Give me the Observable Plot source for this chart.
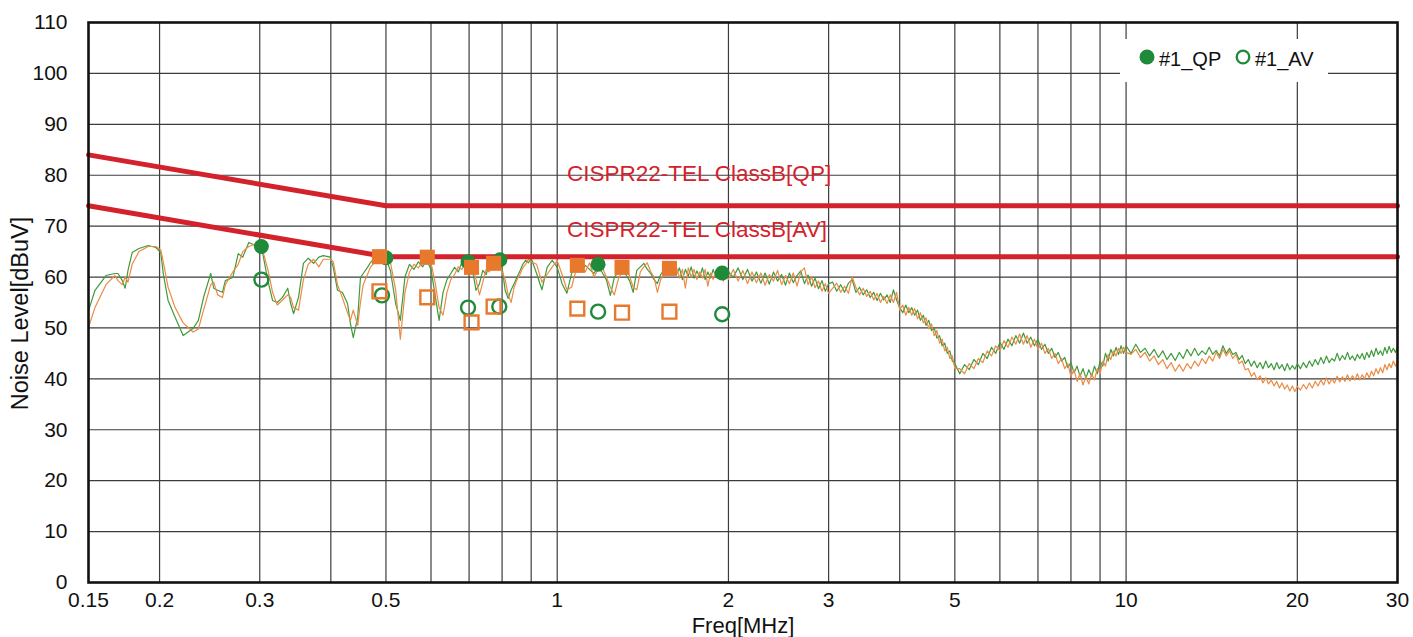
<!DOCTYPE html>
<html><head><meta charset="utf-8">
<script src="https://cdn.jsdelivr.net/npm/d3@7"></script>
<script src="https://cdn.jsdelivr.net/npm/@observablehq/plot@0.6"></script>
<style>
html,body{margin:0;padding:0;background:#fff;}
#wrap{position:relative;width:1413px;height:637px;overflow:hidden;}
#legend{position:absolute;left:1120px;top:39px;}
</style></head><body><div id="wrap"></div>
<script>
// ---------- sweep traces (frequency in MHz, level in dBuV) ----------
const freqA = [0.150,0.154,0.161,0.167,0.169,0.172,0.174,0.176,0.179,0.184,
 0.191,0.197,0.201,0.203,0.207,0.213,0.220,0.229,0.234,0.239,
 0.246,0.249,0.253,0.258,0.261,0.269,0.275,0.280,0.287,0.295,
 0.303,0.310,0.316,0.322,0.329,0.336,0.340,0.344,0.351,0.358,
 0.365,0.373,0.381,0.388,0.399,0.404,0.411,0.419,0.428,0.433,
 0.438,0.446,0.451,0.456,0.464,0.470,0.479,0.499,0.509,0.520];
const greenA = [53.4,57.4,60.3,60.7,60.7,59.3,57.8,61.3,64.8,65.6,
 66.2,65.8,64.8,60.7,55.4,52.1,48.5,49.9,51.5,56.0,
 60.7,57.8,57.4,57.0,59.3,59.9,64.6,63.9,66.8,66.2,
 65.2,59.3,55.4,55.0,56.0,57.8,54.8,52.8,56.0,62.7,
 63.7,62.7,63.9,64.2,63.9,61.9,57.4,57.0,54.8,50.9,
 48.1,52.1,59.9,60.7,61.9,62.9,63.9,63.9,61.3,54.8];
const orangeA = [50.1,54.0,58.5,60.3,59.3,58.5,60.0,59.0,62.5,65.0,
 66.0,66.0,65.3,63.0,58.0,54.0,51.0,49.2,49.8,53.5,
 58.5,59.0,56.5,56.0,58.5,61.0,62.5,65.0,66.0,66.5,
 65.5,61.5,57.0,54.5,55.5,56.5,56.0,54.0,53.5,59.5,
 62.5,63.5,62.0,63.5,63.5,63.0,58.5,56.0,53.0,51.5,
 53.5,50.5,55.0,58.5,60.5,62.0,63.0,63.5,63.0,57.5];

const freqB = [0.53,0.54,0.55,0.56,0.57,0.58,0.59,0.60,0.61,0.62,
 0.63,0.64,0.65,0.66,0.67,0.68,0.69,0.70,0.71,0.72,
 0.73,0.74,0.75,0.76,0.77,0.78,0.79,0.80,0.81,0.82,
 0.83,0.84,0.85,0.86,0.87,0.88,0.89,0.90,0.92,0.94,
 0.96,0.98,1.00];
const greenB = [51.5,60.0,62.5,61.5,63.0,62.0,63.3,61.5,56.5,51.5,
 57.0,59.5,60.7,61.9,61.0,62.9,62.0,63.0,61.3,57.4,
 58.7,61.3,60.5,62.5,62.3,63.5,62.0,61.9,57.4,55.8,
 57.5,58.7,60.0,61.2,62.5,63.3,62.8,63.7,60.7,57.5,
 61.9,63.3,61.9];
const orangeB = [47.8,57.0,61.0,62.5,61.8,63.0,62.5,62.8,59.0,54.0,
 52.5,57.0,59.5,60.5,62.0,61.5,63.0,62.2,62.5,59.5,
 56.5,59.0,61.5,61.0,63.0,62.5,63.3,61.0,59.5,56.5,
 55.0,58.0,59.5,60.5,61.8,62.5,63.5,63.0,62.5,59.0,
 60.5,62.0,63.2];

const freqC = [1.02,1.04,1.06,1.08,1.10,1.12,1.14,1.16,1.18,1.20,
 1.22,1.24,1.26,1.28,1.30,1.32,1.34,1.36,1.38,1.40,
 1.42,1.44,1.46,1.48,1.50,1.52,1.54,1.56,1.58,1.60,
 1.62,1.64,1.66,1.68,1.70,1.72,1.74,1.76,1.78,1.80,
 1.82,1.84,1.86,1.88,1.90,1.92,1.94,1.96,1.98,2.00];
const greenC = [58.7,56.8,60.7,62.7,61.0,62.3,61.5,60.7,62.0,60.9,
 59.5,56.4,59.9,61.0,61.9,60.5,59.3,57.0,61.3,62.0,
 62.7,61.5,60.7,59.5,58.7,60.5,61.3,62.0,61.0,62.3,
 60.5,61.8,59.5,61.5,60.2,62.0,59.8,61.2,60.0,61.8,
 59.5,61.0,59.8,61.5,60.0,61.2,59.5,60.8,59.8,61.0];
const orangeC = [60.5,57.5,58.0,61.5,62.5,61.0,62.8,60.0,61.5,62.0,
 60.0,58.0,56.5,59.5,61.2,62.0,60.2,58.0,57.5,61.0,
 62.0,62.8,61.0,60.0,57.0,59.5,60.5,61.5,62.3,61.2,
 62.0,59.8,61.5,57.8,61.8,60.0,61.5,59.5,61.0,59.8,
 61.5,58.2,60.8,59.5,61.2,59.8,60.5,59.2,61.0,59.5];

const freqD = [2.04,2.08,2.12,2.16,2.20,2.24,2.28,2.32,2.36,2.40,
 2.44,2.48,2.52,2.56,2.60,2.64,2.68,2.72,2.76,2.80,
 2.84,2.88,2.92,2.96,3.00];
const greenD = [60.0,61.8,59.5,61.5,59.2,61.0,58.8,60.8,58.6,61.0,
 59.2,60.5,58.4,60.8,58.9,60.3,61.2,58.7,60.4,58.2,
 59.8,57.7,59.3,57.2,58.7];
const orangeD = [61.5,59.2,61.3,58.7,61.0,58.9,60.8,58.4,60.5,59.2,
 61.3,58.5,60.3,58.7,60.8,58.2,61.0,61.8,58.5,60.0,
 57.9,59.2,57.2,58.7,56.8];

const freqE = [3.05,3.10,3.15,3.20,3.25,3.30,3.35,3.40,3.45,3.50,
 3.55,3.60,3.65,3.70,3.75,3.80,3.85,3.90,3.95,4.00,
 4.05,4.10,4.15,4.20,4.25,4.30,4.35,4.40,4.45,4.50,
 4.55,4.60,4.65,4.70,4.75,4.80,4.85,4.90,4.95,5.00];
const greenE = [59.0,57.2,58.5,57.0,58.8,59.5,57.0,58.0,56.5,57.5,
 56.0,57.0,55.4,56.8,55.5,56.5,55.0,57.5,55.5,54.0,
 53.0,54.5,53.0,54.0,52.5,53.5,51.5,52.5,50.5,51.5,
 49.5,50.0,48.0,48.5,46.5,47.0,45.0,45.5,43.5,43.0];
const orangeE = [57.8,58.8,57.0,58.2,56.8,60.0,58.0,56.5,57.8,56.2,
 57.2,55.5,56.8,55.0,56.2,54.8,56.5,55.0,57.0,53.5,
 54.5,52.5,54.0,52.5,53.8,51.8,53.0,51.0,52.0,49.8,
 50.8,48.5,49.5,47.0,47.8,45.5,46.2,44.0,44.5,42.0];

const freqF = [5.1,5.2,5.3,5.4,5.5,5.6,5.7,5.8,5.9,6.0,
 6.1,6.2,6.3,6.4,6.5,6.6,6.7,6.8,6.9,7.0,
 7.1,7.2,7.3,7.4,7.5,7.6,7.7,7.8,7.9,8.0,
 8.1,8.2,8.3,8.4,8.5,8.6,8.7,8.8,8.9,9.0,
 9.1,9.2,9.3,9.4,9.5,9.6,9.7,9.8,9.9,10.0];
const greenF = [41.0,42.8,41.8,43.8,42.8,45.0,44.0,46.2,45.0,47.2,
 45.8,47.8,46.5,48.5,47.0,49.0,47.0,48.2,46.5,47.8,
 45.8,46.8,45.0,46.0,44.2,45.2,43.5,44.2,42.2,43.2,
 41.2,42.5,40.5,42.0,40.2,41.8,40.5,42.5,41.0,43.5,
 42.5,45.0,43.5,45.8,44.5,46.2,44.8,46.5,45.0,46.5];
const orangeF = [42.0,41.0,43.0,42.0,44.0,43.2,45.5,44.5,46.5,45.5,
 47.5,46.2,48.2,46.8,48.8,46.8,48.5,46.2,47.8,45.8,
 47.0,45.0,46.0,44.0,45.0,43.0,44.0,42.0,43.0,40.5,
 41.8,39.5,41.0,38.8,40.5,39.0,41.0,39.8,42.0,41.0,
 43.5,42.5,44.8,43.8,45.5,44.5,46.0,45.0,46.2,45.2];

const freqG = [10.2,10.4,10.6,10.8,11.0,11.2,11.4,11.6,11.8,12.0,
 12.2,12.4,12.6,12.8,13.0,13.2,13.4,13.6,13.8,14.0,
 14.2,14.4,14.6,14.8,15.0,15.2,15.4,15.6,15.8,16.0,
 16.2,16.4,16.6,16.8,17.0,17.2,17.4,17.6,17.8,18.0,
 18.2,18.4,18.6,18.8,19.0,19.2,19.4,19.6,19.8,20.0];
const greenG = [45.0,46.8,45.2,46.0,44.5,45.8,44.2,45.5,43.8,45.0,
 43.6,45.2,44.0,45.8,44.5,46.0,44.6,45.5,44.8,46.2,
 44.8,45.6,44.5,46.5,45.0,46.0,44.8,45.2,43.8,44.6,
 43.0,43.8,42.5,43.5,42.2,43.2,42.0,43.5,42.2,43.0,
 41.8,43.2,42.0,42.8,41.6,43.0,41.8,42.6,41.9,43.0];
const orangeG = [44.8,45.8,44.2,45.2,43.5,44.5,42.8,43.8,42.0,43.2,
 41.5,42.8,41.5,43.0,42.0,43.5,42.5,44.0,43.0,44.5,
 43.5,45.2,44.0,45.8,44.5,45.5,44.0,44.8,43.0,43.5,
 41.8,42.0,40.5,41.2,39.8,40.6,39.2,40.2,39.0,39.8,
 38.6,39.5,38.2,39.2,38.0,38.8,37.6,38.6,37.5,38.5];

const freqH = [20.25,20.5,20.75,21.0,21.25,21.5,21.75,22.0,22.25,22.5,
 22.75,23.0,23.25,23.5,23.75,24.0,24.25,24.5,24.75,25.0,
 25.25,25.5,25.75,26.0,26.25,26.5,26.75,27.0,27.25,27.5,
 27.75,28.0,28.25,28.5,28.75,29.0,29.25,29.5,29.75,30.0];
const greenH = [42.0,43.2,42.2,43.5,42.5,43.8,42.8,44.2,43.0,44.5,
 43.2,44.0,43.5,45.0,43.6,44.6,43.8,45.2,43.8,44.5,
 43.6,44.8,44.0,45.0,43.8,45.2,44.2,45.6,44.4,46.0,
 44.8,45.5,44.6,46.2,45.0,46.4,45.2,46.0,45.2,46.2];
const orangeH = [37.8,38.9,38.0,39.2,38.2,39.5,38.6,39.8,38.8,40.2,
 39.0,40.0,39.2,40.5,39.4,40.4,39.5,40.8,39.6,40.6,
 39.8,41.0,39.8,40.8,40.0,41.2,40.2,41.5,40.6,42.0,
 41.0,42.2,41.2,42.8,41.8,43.0,42.2,43.5,42.5,43.5];

// ---------- limit lines ----------
const limitFreq = [0.15, 0.5, 30];
const limitQP = [84, 74, 74];
const limitAV = [74, 64, 64];
const limitLabels = ["CISPR22-TEL ClassB[QP]", "CISPR22-TEL ClassB[AV]"];
const limitLabelFreq = [1.04, 1.04];
const limitLabelLevel = [78.8, 67.8];

// ---------- measured points ----------
const qp1Freq = [0.302, 0.50, 0.697, 0.793, 1.18, 1.95];
const qp1Level = [66.0, 63.8, 63.0, 63.4, 62.5, 60.8];
const av1Freq = [0.302, 0.492, 0.697, 0.791, 1.18, 1.95];
const av1Level = [59.5, 56.4, 54.0, 54.2, 53.2, 52.7];
const qp2Freq = [0.487, 0.591, 0.707, 0.773, 1.085, 1.30, 1.575];
const qp2Level = [64.0, 63.9, 61.9, 62.7, 62.3, 61.9, 61.7];
const av2Freq = [0.487, 0.591, 0.707, 0.773, 1.085, 1.30, 1.575];
const av2Level = [57.2, 56.0, 51.1, 54.2, 53.8, 53.0, 53.2];

// ---------- axes ----------
const xTickValues = [0.15, 0.2, 0.3, 0.5, 0.7, 1, 2, 3, 5, 7, 10, 20, 30];
const xTickLabels = ["0.15","0.2","0.3","0.5","0.7","1","2","3","5","7","10","20","30"];
const gridFreq = [0.2,0.3,0.4,0.5,0.6,0.7,0.8,0.9,1,2,3,4,5,6,7,8,9,10,20];
const yTickValues = [0,10,20,30,40,50,60,70,80,90,100,110];
const gridLevel = [10,20,30,40,50,60,70,80,90,100];
const xTitle = "Freq[MHz]";
const yTitle = "Noise Level[dBuV]";

// ---------- build tables ----------
const segs = [[freqA,greenA,orangeA],[freqB,greenB,orangeB],[freqC,greenC,orangeC],[freqD,greenD,orangeD],
  [freqE,greenE,orangeE],[freqF,greenF,orangeF],[freqG,greenG,orangeG],[freqH,greenH,orangeH]];
const trace = [];
segs.forEach(([f,g,o], i) => {
  if (f.length !== g.length || f.length !== o.length) throw new Error("segment " + i + " lengths " + f.length + "/" + g.length + "/" + o.length);
  f.forEach((v, j) => trace.push({f: v, g: g[j], o: o[j]}));
});
const zip = (a, b) => a.map((v, i) => ({f: v, y: b[i]}));
const limits = limitFreq.map((f, i) => ({f, qp: limitQP[i], av: limitAV[i]}));
const labelRows = limitLabels.map((t, i) => ({t, f: limitLabelFreq[i], y: limitLabelLevel[i]}));

const RED = "#d3222c", GREEN = "#1f8a3a", GREEN_T = "#3f9a3c", ORANGE = "#e8782c", ORANGE_T = "#eb8b45";
const FONT = "'Liberation Sans', Arial, sans-serif";

const chart = Plot.plot({
  width: 1413, height: 637,
  marginLeft: 88, marginRight: 16, marginTop: 22, marginBottom: 55,
  style: {fontFamily: FONT, fontSize: "21px", background: "#fff", color: "#111", overflow: "visible"},
  x: {type: "log", domain: [0.15, 30]},
  y: {domain: [0, 110]},
  marks: [
    Plot.ruleX(gridFreq, {stroke: "#3c3c3c", strokeWidth: 1.2}),
    Plot.ruleY(gridLevel, {stroke: "#3c3c3c", strokeWidth: 1.2}),
    Plot.line(trace, {x: "f", y: "g", stroke: GREEN_T, strokeWidth: 1.2}),
    Plot.line(trace, {x: "f", y: "o", stroke: ORANGE_T, strokeWidth: 1.2}),
    Plot.line(limits, {x: "f", y: "qp", stroke: RED, strokeWidth: 5}),
    Plot.line(limits, {x: "f", y: "av", stroke: RED, strokeWidth: 5}),
    Plot.text(labelRows, {x: "f", y: "y", text: "t", textAnchor: "start", lineAnchor: "bottom", fill: RED, fontSize: 22.5}),
    Plot.dot(zip(qp1Freq, qp1Level), {x: "f", y: "y", r: 7.5, fill: GREEN}),
    Plot.dot(zip(av1Freq, av1Level), {x: "f", y: "y", r: 7, fill: "none", stroke: GREEN, strokeWidth: 2.4}),
    Plot.dot(zip(qp2Freq, qp2Level), {x: "f", y: "y", symbol: "square", r: 8.5, fill: ORANGE}),
    Plot.dot(zip(av2Freq, av2Level), {x: "f", y: "y", symbol: "square", r: 7.8, fill: "none", stroke: ORANGE, strokeWidth: 2.4}),
    Plot.frame({stroke: "#111", strokeWidth: 2.6}),
    Plot.axisX({ticks: xTickValues, tickFormat: (d) => xTickLabels[xTickValues.indexOf(d)], tickSize: 0, tickPadding: 10,
      fontSize: 21, label: null}),
    Plot.axisY({ticks: yTickValues, tickSize: 0, tickPadding: 21, fontSize: 21, label: null}),
    Plot.text([xTitle], {text: (d) => d, frameAnchor: "bottom", textAnchor: "middle", lineAnchor: "bottom", dy: 50, fontSize: 22, fill: "#111"}),
    Plot.text([yTitle], {text: (d) => d, frameAnchor: "left", textAnchor: "middle", lineAnchor: "middle", rotate: -90, dx: -68, dy: 11, fontSize: 23.5, fill: "#111"})
  ]
});
const wrap = document.getElementById("wrap");
wrap.appendChild(chart);

// legend overlay (inside plot area, top-right)
const legend = document.createElementNS("http://www.w3.org/2000/svg", "svg");
legend.setAttribute("id", "legend");
legend.setAttribute("width", "208");
legend.setAttribute("height", "43");
legend.innerHTML = `
  <rect x="0" y="0" width="208" height="43" fill="#fff"/>
  <circle cx="27" cy="18" r="7.5" fill="${GREEN}"/>
  <text x="39" y="27" font-family="${FONT}" font-size="20" fill="#111">#1_QP</text>
  <circle cx="123" cy="18" r="6.3" fill="none" stroke="${GREEN}" stroke-width="2.3"/>
  <text x="135" y="27" font-family="${FONT}" font-size="20" fill="#111">#1_AV</text>`;
wrap.appendChild(legend);
</script></body></html>
